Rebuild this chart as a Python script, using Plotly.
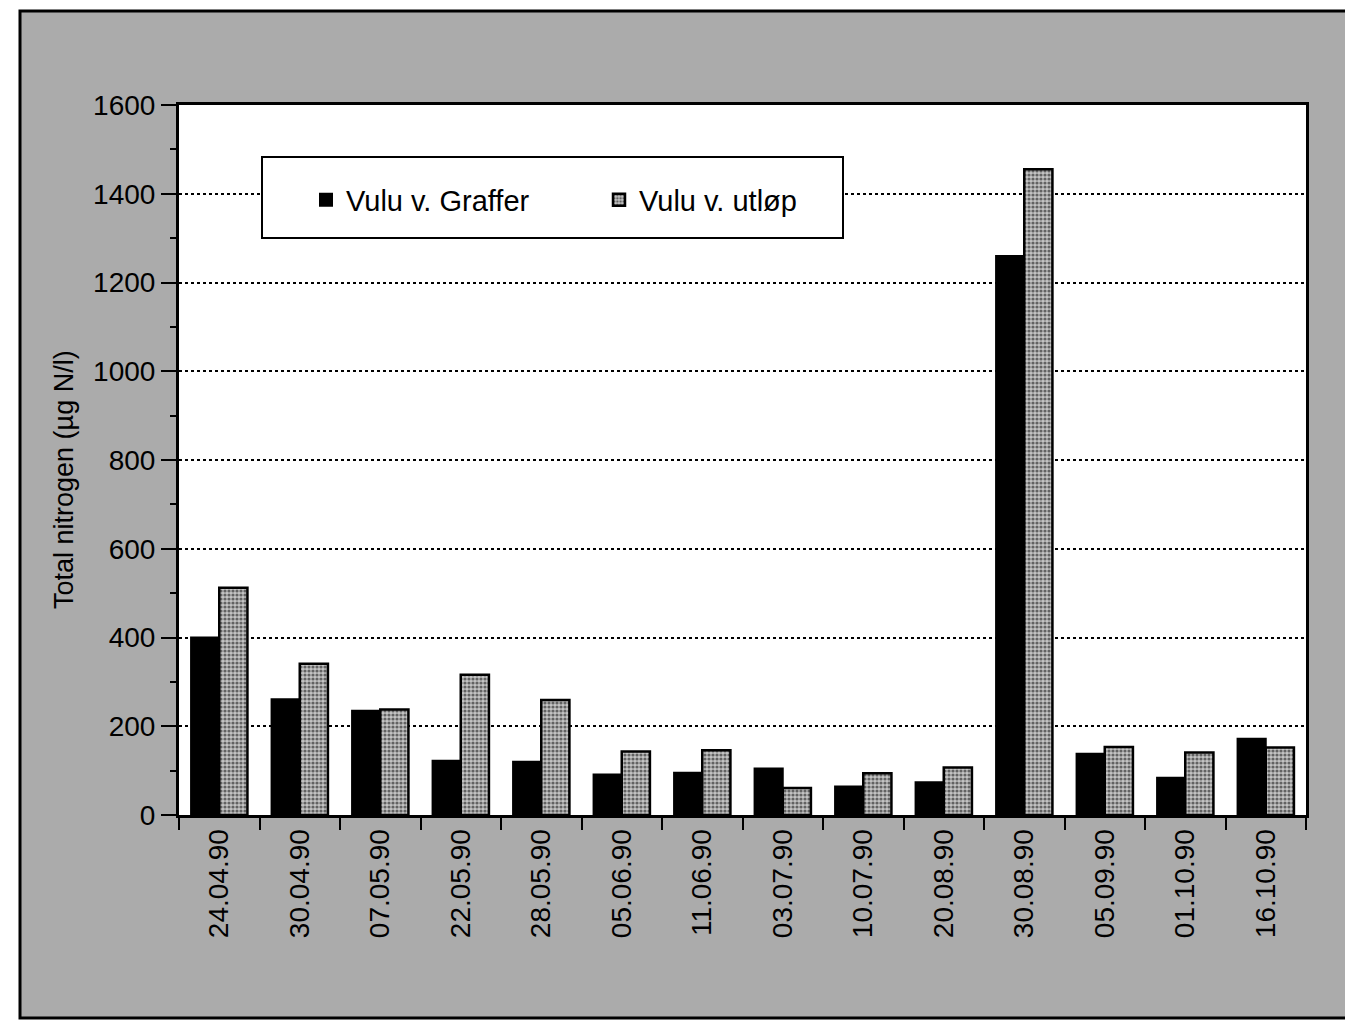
import plotly.graph_objects as go

dates = ["24.04.90", "30.04.90", "07.05.90", "22.05.90", "28.05.90", "05.06.90",
         "11.06.90", "03.07.90", "10.07.90", "20.08.90", "30.08.90", "05.09.90",
         "01.10.90", "16.10.90"]
graffer = [400, 261, 235, 122, 120, 91, 95, 105, 64, 74, 1260, 138, 84, 172]
utlop = [512, 341, 238, 316, 259, 143, 146, 61, 94, 107, 1455, 153, 141, 152]
y_ticks = [0, 200, 400, 600, 800, 1000, 1200, 1400, 1600]

FONT = "Liberation Sans, Arial, Helvetica, sans-serif"

fig = go.Figure()
fig.add_trace(go.Bar(
    x=dates, y=graffer, name="Vulu v. Graffer",
    marker=dict(color="black", line=dict(color="black", width=2)),
))
fig.add_trace(go.Bar(
    x=dates, y=utlop, name="Vulu v. utløp",
    marker=dict(color="white", line=dict(color="black", width=2.5),
                pattern=dict(shape=".", fgcolor="black", bgcolor="#c4c4c4",
                             size=4, solidity=0.5)),
))

L, R, T, B = 179, 39, 105, 211
W, H = 1345, 1026
pw, ph = W - L - R, H - T - B

def px_x(p):
    return (p - L) / pw

def px_y(p):
    return (H - B - p) / ph

shapes = [
    # outer halftone frame
    dict(type="rect", xref="paper", yref="paper", layer="below",
         x0=px_x(20), x1=px_x(1380), y0=px_y(1018), y1=px_y(11),
         fillcolor="#ababab", line=dict(color="black", width=3)),
    # white plot area
    dict(type="rect", xref="paper", yref="paper", layer="below",
         x0=0, x1=1, y0=0, y1=1, fillcolor="white", line=dict(width=0)),
    # legend box
    dict(type="rect", xref="paper", yref="paper", layer="above",
         x0=px_x(262), x1=px_x(843), y0=px_y(238), y1=px_y(157),
         fillcolor="white", line=dict(color="black", width=2)),
]

fig.update_layout(
    width=W, height=H,
    margin=dict(l=L, r=R, t=T, b=B, pad=0),
    paper_bgcolor="white",
    plot_bgcolor="rgba(0,0,0,0)",
    font=dict(family=FONT, color="black", size=28),
    barmode="group", bargap=0.3, bargroupgap=0,
    showlegend=True,
    legend=dict(orientation="h", x=px_x(306), y=px_y(200), xanchor="left", yanchor="middle",
                bgcolor="rgba(0,0,0,0)", borderwidth=0,
                font=dict(size=29, family=FONT, color="black"),
                entrywidth=248, entrywidthmode="pixels", traceorder="normal"),
    shapes=shapes,
    annotations=[dict(text="Total nitrogen (µg N/l)", xref="paper", yref="paper",
                      x=px_x(47), y=px_y(480), textangle=-90, showarrow=False,
                      font=dict(size=27, family=FONT, color="black"))],
)

fig.update_yaxes(
    range=[0, 1600], tickvals=y_ticks, ticktext=[str(v) for v in y_ticks],
    ticks="outside", ticklen=15, tickwidth=2, tickcolor="black",
    minor=dict(ticks="outside", ticklen=6, tickwidth=2, tickcolor="black", dtick=100, showgrid=False),
    showgrid=True, gridcolor="black", gridwidth=2, griddash="dot",
    showline=True, linecolor="black", linewidth=3, mirror=True,
    zeroline=False, tickfont=dict(size=28, family=FONT, color="black"),
)
fig.update_xaxes(
    type="category", tickangle=-90, tickson="boundaries",
    ticks="outside", ticklen=12, tickwidth=2, tickcolor="black",
    showline=True, linecolor="black", linewidth=3, mirror=True,
    showgrid=False, tickfont=dict(size=28, family=FONT, color="black"),
)

fig.write_html("out.html", config={"displayModeBar": False},
               post_script="document.body.style.margin='0';document.body.style.overflow='hidden';")
